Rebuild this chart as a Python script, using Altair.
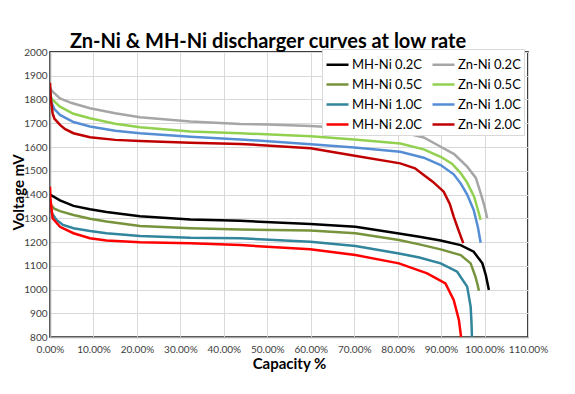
import altair as alt
import pandas as pd

series_names = ["MH-Ni 0.2C", "MH-Ni 0.5C", "MH-Ni 1.0C", "MH-Ni 2.0C",
                "Zn-Ni 0.2C", "Zn-Ni 0.5C", "Zn-Ni 1.0C", "Zn-Ni 2.0C"]
series_colors = ["#000000", "#77933c", "#31859c", "#ff0000",
                 "#a6a6a6", "#92d050", "#558ed5", "#c00000"]

# capacity in %, voltage in mV
zn02_cap = [0, 0.5, 2.3, 5, 9.2, 15, 20.7, 32.3, 43.8, 50, 60, 70, 80.6, 86, 89.9, 93, 96, 98, 99.1, 100, 100.6]
zn02_v = [1850, 1835, 1805, 1785, 1763, 1742, 1725, 1707, 1697, 1695, 1688, 1678, 1664, 1640, 1601, 1570, 1517, 1470, 1406, 1350, 1300]

zn05_cap = [0, 0.5, 2.3, 5.4, 9.2, 15, 20.7, 32.3, 43.8, 60, 70, 80.6, 86, 89.9, 92.5, 94.5, 96, 97.6, 98.4, 99.1]
zn05_v = [1820, 1800, 1770, 1740, 1721, 1698, 1683, 1665, 1658, 1645, 1632, 1615, 1590, 1559, 1530, 1490, 1450, 1391, 1340, 1293]

zn10_cap = [0, 0.3, 1, 2.3, 5.4, 9.2, 15, 20.7, 32.3, 43.8, 60, 70, 80.6, 86, 89.9, 92.9, 94.5, 96, 97.5, 98.5, 99.1]
zn10_v = [1850, 1790, 1760, 1735, 1705, 1686, 1668, 1658, 1643, 1632, 1612, 1598, 1580, 1555, 1524, 1485, 1447, 1400, 1335, 1260, 1197]

zn20_cap = [0, 0.2, 0.6, 1, 2.3, 3.5, 5.4, 9.2, 15, 20.7, 32.3, 43.8, 60, 69.1, 80.6, 84, 86, 88, 90.6, 92, 92.9, 94, 95.1]
zn20_v = [1870, 1800, 1742, 1720, 1693, 1675, 1658, 1641, 1630, 1625, 1618, 1613, 1595, 1566, 1531, 1510, 1482, 1455, 1412, 1360, 1307, 1250, 1195]

mh02_cap = [0, 2.3, 5.4, 9.2, 13, 20.7, 32.3, 43.8, 59.9, 70.3, 80.3, 85, 89.9, 94.5, 97.5, 99.5, 100.3, 101]
mh02_v = [1400, 1375, 1352, 1338, 1326, 1308, 1295, 1289, 1276, 1264, 1236, 1222, 1206, 1187, 1159, 1110, 1060, 998]

mh05_cap = [0, 0.3, 1, 2.3, 5.4, 9.2, 13, 20.7, 32.3, 43.8, 59.9, 70.3, 80.3, 85, 89.9, 94.5, 96.8, 97.9, 98.4, 98.7]
mh05_v = [1370, 1355, 1340, 1330, 1314, 1298, 1286, 1267, 1258, 1253, 1248, 1237, 1208, 1190, 1169, 1145, 1110, 1054, 1020, 995]

mh10_cap = [0, 0.2, 1.5, 3, 5.4, 9.2, 13, 20.7, 32.3, 43.8, 59.9, 70.3, 80.3, 85, 89.9, 93.7, 96, 96.8, 97, 97.1]
mh10_v = [1360, 1328, 1293, 1272, 1258, 1246, 1237, 1225, 1218, 1216, 1201, 1183, 1152, 1135, 1110, 1075, 1012, 928, 860, 801]

mh20_cap = [0, 0.1, 0.6, 2.3, 5.4, 9.2, 13, 20.7, 32.3, 43.8, 59.9, 70.3, 80.3, 86.8, 91, 92.9, 94.1, 94.6]
mh20_v = [1433, 1380, 1300, 1264, 1237, 1216, 1206, 1199, 1195, 1187, 1169, 1145, 1110, 1068, 1026, 956, 872, 800]

series_data = {
    "MH-Ni 0.2C": (mh02_cap, mh02_v),
    "Zn-Ni 0.2C": (zn02_cap, zn02_v),
    "MH-Ni 0.5C": (mh05_cap, mh05_v),
    "Zn-Ni 0.5C": (zn05_cap, zn05_v),
    "MH-Ni 1.0C": (mh10_cap, mh10_v),
    "Zn-Ni 1.0C": (zn10_cap, zn10_v),
    "MH-Ni 2.0C": (mh20_cap, mh20_v),
    "Zn-Ni 2.0C": (zn20_cap, zn20_v),
}

rows = []
for name, (caps, volts) in series_data.items():
    for i, (c, v) in enumerate(zip(caps, volts)):
        rows.append({"series": name, "cap": c / 100.0, "volt": v, "order": i})
df = pd.DataFrame(rows)

x_ticks = [i / 10 for i in range(12)]
y_ticks = list(range(800, 2001, 100))

FONT = "Lato"

chart = alt.Chart(df).mark_line(strokeWidth=2.5, clip=True).encode(
    x=alt.X("cap:Q", scale=alt.Scale(domain=[0, 1.1], nice=False),
            axis=alt.Axis(values=x_ticks, format=".2%", title="Capacity %",
                          labelOverlap=False, labelFlush=False, titleFontSize=15,
                          labelPadding=7)),
    y=alt.Y("volt:Q", scale=alt.Scale(domain=[800, 2000], nice=False, zero=False),
            axis=alt.Axis(values=y_ticks, format="d", title="Voltage mV",
                          labelOverlap=False, labelFlush=False, titleFontSize=15,
                          labelPadding=3,
                          titleX=-32, titleY=140, titleAngle=-90,
                          titleAlign="center", titleBaseline="middle")),
    color=alt.Color("series:N", scale=alt.Scale(domain=series_names, range=series_colors),
                    legend=alt.Legend(title=None, orient="none", legendX=272, legendY=-3,
                                      columns=2, columnPadding=5, rowPadding=-8,
                                      symbolType="M-1,0H1", symbolSize=484,
                                      symbolStrokeWidth=2.5, labelFontSize=13,
                                      labelFont=FONT, labelColor="#000000",
                                      fillColor="white", strokeColor="#d9d9d9",
                                      padding=3, labelOffset=2)),
    order="order:Q",
    detail="series:N",
).properties(
    width=478, height=285,
    title=alt.TitleParams("Zn-Ni & MH-Ni discharger curves at low rate",
                          fontSize=20, font=FONT, fontWeight="bold", color="#000000",
                          anchor="middle", dx=-21, offset=3, baseline="bottom", dy=28),
    autosize=alt.AutoSizeParams(type="none"),
    padding={"left": 42, "top": 44, "right": 30, "bottom": 40},
).configure_view(
    stroke="#000000", strokeWidth=1.5
).configure_axis(
    gridColor="#d9d9d9", gridWidth=1, domainColor="#a6a6a6", domainWidth=1.5,
    tickSize=0, labelFont=FONT, labelFontSize=10, labelColor="#404040",
    titleFont=FONT, titleFontWeight="bold", titleColor="#000000"
).configure_axisX(titlePadding=2)

chart.save("out.html", embed_options={"renderer": "svg", "actions": False})
